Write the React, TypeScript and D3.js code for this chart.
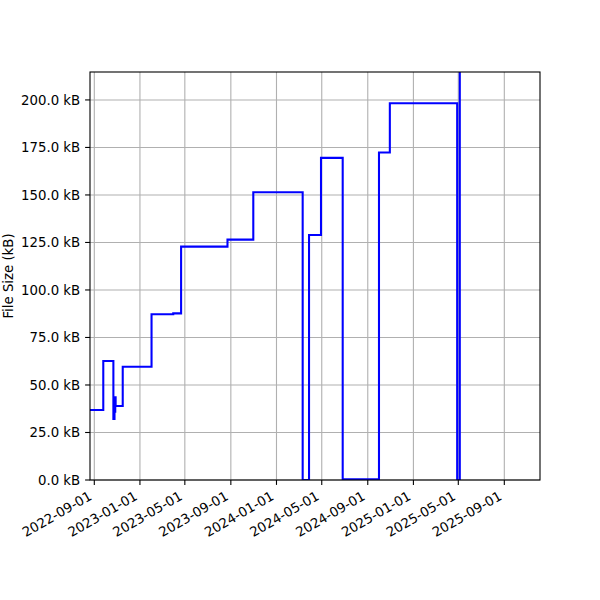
import React from "react";
import * as d3 from "d3";

// ---- data ----
const changeDates: string[] = [
  "2022-08-01", "2022-09-25", "2022-10-22", "2022-10-25", "2022-10-27",
  "2022-10-28", "2022-11-16", "2023-02-01", "2023-03-31", "2023-04-21",
  "2023-08-23", "2023-10-31", "2024-03-11", "2024-03-28", "2024-04-29",
  "2024-06-26", "2024-10-01", "2024-10-30", "2025-04-28", "2025-05-05",
];
const fileSizesKB: number[] = [
  36.8, 62.6, 32.1, 36.0, 43.5,
  38.9, 59.6, 87.2, 87.7, 122.8,
  126.5, 151.4, 0, 128.9, 169.5,
  0.4, 172.3, 198.3, 0, 1500,
];
const xTickDates: string[] = [
  "2022-09-01", "2023-01-01", "2023-05-01", "2023-09-01", "2024-01-01",
  "2024-05-01", "2024-09-01", "2025-01-01", "2025-05-01", "2025-09-01",
];
const yTickValues: number[] = [0, 25, 50, 75, 100, 125, 150, 175, 200];
const yLabel = "File Size (kB)";

const parse = (s: string) => {
  const [y, m, d] = s.split("-").map(Number);
  return new Date(Date.UTC(y, m - 1, d));
};

export default function App() {
  const W = 600, H = 600;
  const left = 90, right = 540, top = 72, bottom = 480;
  const DAY = 86400000;
  const ref = parse("2022-09-01").getTime();
  const x = d3
    .scaleUtc()
    .domain([new Date(ref - 11.5 * DAY), new Date(ref + 1191.4 * DAY)])
    .range([left, right]);
  const y = d3.scaleLinear().domain([0, 214.7]).range([bottom, top]);

  const pts = changeDates.map((d, i) => [parse(d), fileSizesKB[i]] as [Date, number]);
  const line = d3
    .line<[Date, number]>()
    .x((d) => x(d[0]))
    .y((d) => y(d[1]))
    .curve(d3.curveStepAfter);

  const font = "DejaVu Sans, sans-serif";
  const fs = 13.3;
  const tickLen = 4.9;
  const pad = 4.9;

  return (
    <svg
      width={W}
      height={H}
      style={{ position: "absolute", left: 0, top: 0, background: "#fff" }}
      fontFamily={font}
    >
      <defs>
        <clipPath id="plotclip">
          <rect x={left} y={top} width={right - left} height={bottom - top} />
        </clipPath>
      </defs>
      <rect x={0} y={0} width={W} height={H} fill="#fff" />
      {/* grid */}
      <g stroke="#b0b0b0" strokeWidth={1.1}>
        {xTickDates.map((t) => (
          <line key={"gx" + t} x1={x(parse(t))} x2={x(parse(t))} y1={top} y2={bottom} />
        ))}
        {yTickValues.map((v) => (
          <line key={"gy" + v} x1={left} x2={right} y1={y(v)} y2={y(v)} />
        ))}
      </g>
      {/* data line */}
      <path
        d={line(pts) || ""}
        fill="none"
        stroke="#0000ff"
        strokeWidth={2.08}
        strokeLinejoin="miter"
        clipPath="url(#plotclip)"
      />
      {/* spines */}
      <rect
        x={left}
        y={top}
        width={right - left}
        height={bottom - top}
        fill="none"
        stroke="#000"
        strokeWidth={1.1}
      />
      {/* x ticks */}
      {xTickDates.map((t) => {
        const px = x(parse(t));
        const py = bottom + tickLen + pad + 0.866 * 13.5;
        return (
          <g key={"xt" + t}>
            <line x1={px} x2={px} y1={bottom} y2={bottom + tickLen} stroke="#000" strokeWidth={1.1} />
            <text
              transform={`translate(${px},${py}) rotate(-30)`}
              y={-3.2}
              textAnchor="end"
              fontSize={fs}
              fill="#000"
            >
              {t}
            </text>
          </g>
        );
      })}
      {/* y ticks */}
      {yTickValues.map((v) => (
        <g key={"yt" + v}>
          <line x1={left - tickLen} x2={left} y1={y(v)} y2={y(v)} stroke="#000" strokeWidth={1.1} />
          <text
            x={left - tickLen - pad}
            y={y(v)}
            dy="0.36em"
            textAnchor="end"
            fontSize={fs}
            fill="#000"
          >
            {v.toFixed(1) + " kB"}
          </text>
        </g>
      ))}
      {/* y label */}
      <text
        transform={`translate(12.5,${(top + bottom) / 2}) rotate(-90)`}
        textAnchor="middle"
        fontSize={fs}
        fill="#000"
      >
        {yLabel}
      </text>
    </svg>
  );
}
